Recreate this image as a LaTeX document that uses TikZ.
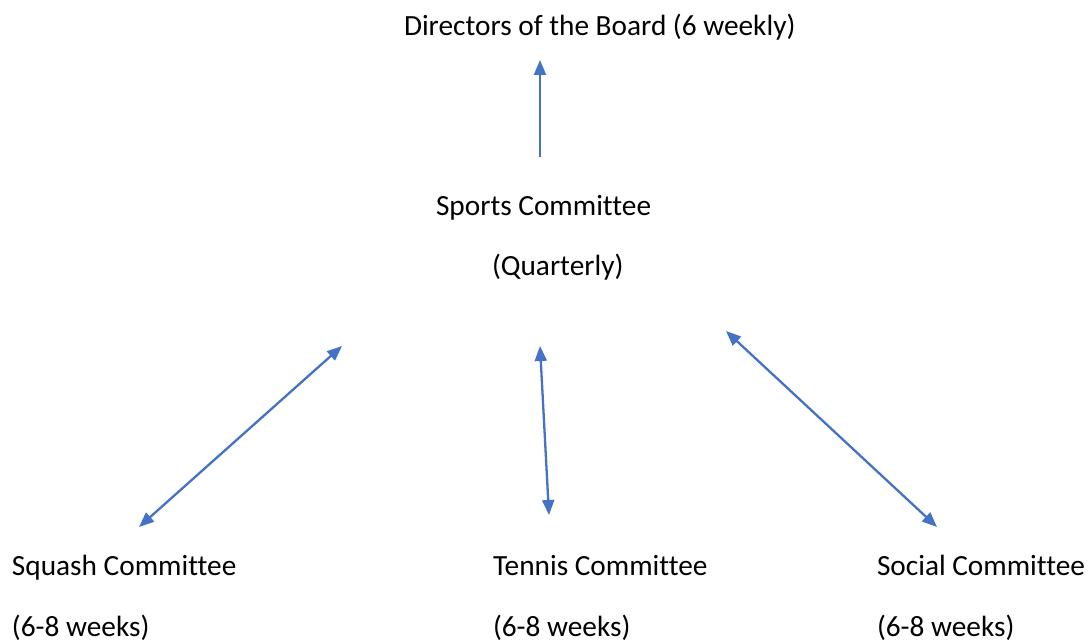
\documentclass[tikz,border=0pt]{standalone}
\usepackage{fontspec}
\setmainfont[Ligatures={NoCommon}]{Carlito}
\usetikzlibrary{arrows.meta}
\definecolor{arrowblue}{HTML}{4472C4}
\tikzset{
  lbl/.style={anchor=base west, inner sep=0pt, outer sep=0pt, font=\fontsize{29.3}{34}\selectfont, text=black},
  conn/.style={draw=arrowblue, line width=2.3pt, -{Triangle[length=15pt,width=12pt]}},
  conn2/.style={draw=arrowblue, line width=2.3pt, {Triangle[length=15pt,width=12pt]}-{Triangle[length=15pt,width=12pt]}}
}
\begin{document}
\begin{tikzpicture}[x=1pt,y=-1pt]
\useasboundingbox (0,0) rectangle (1090,642);
\node[lbl] (dir) at (404,36) {Directors of the Board (6 weekly)};
\node[lbl] (sports) at (436,215) {Sports Committee};
\node[lbl] (quart) at (492,275) {(Quarterly)};
\node[lbl] (squash) at (12,575) {Squash Committee};
\node[lbl] (squashf) at (12,636) {(6-8 weeks)};
\node[lbl] (tennis) at (493,575) {Tennis Committee};
\node[lbl] (tennisf) at (493,636) {(6-8 weeks)};
\node[lbl] (social) at (877,575) {Social Committee};
\node[lbl] (socialf) at (877,636) {(6-8 weeks)};
\coordinate (upS) at (540,157);
\coordinate (upE) at (540,60);
\coordinate (sqA) at (139,527);
\coordinate (sqB) at (342,346);
\coordinate (teA) at (549,515);
\coordinate (teB) at (540,346);
\coordinate (soA) at (937,527);
\coordinate (soB) at (726,331);
\draw[conn] (upS) -- (upE);
\draw[conn2] (sqA) -- (sqB);
\draw[conn2] (teA) -- (teB);
\draw[conn2] (soA) -- (soB);
\end{tikzpicture}
\end{document}
